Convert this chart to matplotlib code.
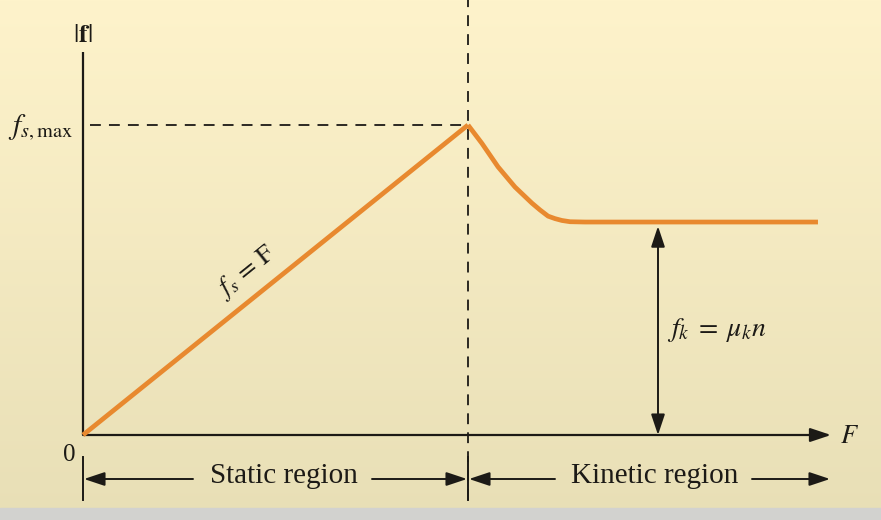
import numpy as np
import matplotlib
matplotlib.use("Agg")
import matplotlib.pyplot as plt
from matplotlib.patches import FancyArrowPatch

plt.rcParams['font.family'] = ['Liberation Serif', 'DejaVu Serif']
plt.rcParams['mathtext.fontset'] = 'stix'

# ---- data (normalised: f_s,max = 1 at the onset of sliding F = 1) ----
F_static = [0.0, 1.0]
f_static = [0.0, 1.0]
F_kinetic = [1.0, 1.036, 1.078, 1.122, 1.166, 1.187, 1.208, 1.226, 1.244, 1.265, 1.304, 1.909]
f_kinetic = [1.0, 0.941, 0.865, 0.800, 0.748, 0.726, 0.706, 0.698, 0.692, 0.688, 0.687, 0.687]
fs_max = 1.0
f_k = 0.687
F_transition = 1.0
region_labels = ["Static region", "Kinetic region"]

W, H = 881, 520
OX, OY = 83, 435      # pixel origin
SX, SY = 385, 310     # pixels per data unit


def dx(px):
    return (px - OX) / SX


def dy(py):
    return (OY - py) / SY


fig = plt.figure(figsize=(W / 100, H / 100), dpi=100)

# background gradient
bg = fig.add_axes([0, 0, 1, 1])
bg.axis('off')
top = np.array([254, 243, 203]) / 255
bot = np.array([232, 223, 182]) / 255
t = np.linspace(0, 1, 256)[:, None]
grad = top[None, :] * (1 - t) + bot[None, :] * t
img = np.repeat(grad[:, None, :], 2, axis=1)
bg.imshow(img, aspect='auto', extent=[0, 1, 0, 1], origin='upper')
bg.axhspan(0, 12 / H, color='#d2d2cf', zorder=2)
bg.set_xlim(0, 1)
bg.set_ylim(0, 1)

ax = fig.add_axes([0, 0, 1, 1])
ax.patch.set_alpha(0)
ax.axis('off')
ax.set_xlim(dx(0), dx(W))
ax.set_ylim(dy(H), dy(0))

ink = '#1c1a16'
orange = '#e8892f'

# axes
ax.plot([0, 0], [0, dy(52)], color=ink, lw=1.6, solid_capstyle='butt')
ax.add_patch(FancyArrowPatch((0, 0), (dx(831), 0), arrowstyle='-|>,head_length=0.9,head_width=0.3',
                             mutation_scale=14, color=ink, lw=1.6, shrinkA=0, shrinkB=0))

# dashed guides
ax.plot([F_transition, F_transition], [dy(500), dy(0)], color=ink, lw=1.3,
        linestyle=(0, (6, 4.5)))
ax.plot([dx(90), F_transition], [fs_max, fs_max], color=ink, lw=1.3,
        linestyle=(0, (6, 4.5)))

# friction curve
ax.plot(F_static, f_static, color=orange, lw=3.4, solid_capstyle='butt', zorder=5)
ax.plot(F_kinetic, f_kinetic, color=orange, lw=3.4, solid_capstyle='butt',
        solid_joinstyle='round', zorder=5)

# f_k double arrow
xk = dx(658)
ax.add_patch(FancyArrowPatch((xk, 0), (xk, f_k), arrowstyle='<|-|>,head_length=0.9,head_width=0.3',
                             mutation_scale=14, color=ink, lw=1.4, shrinkA=0, shrinkB=3))

# labels
ax.text(0, dy(36), r'$|\mathbf{f}|$', ha='center', va='center', fontsize=19, color=ink)
ax.text(dx(73), fs_max - 0.01, r'$f_{s,\mathrm{max}}$', ha='right', va='center', fontsize=21, color=ink)
ax.text(dx(69), dy(455), '0', ha='center', va='center', fontsize=18, color=ink)
ax.text(dx(840), dy(437), r'$F$', ha='left', va='center', fontsize=19, color=ink)
ax.text(dx(247), dy(272), r'$f_s\,=\,\mathrm{F}$', ha='center', va='center', fontsize=19,
        rotation=38.8, rotation_mode='anchor', color=ink)
ax.text(dx(667), dy(330), r'$f_k\;=\;\mu_k n$', ha='left', va='center', fontsize=20, color=ink)

# region markers
for px in (83, 468):
    ax.plot([dx(px), dx(px)], [dy(457), dy(500)], color=ink, lw=1.4)
ya = dy(479)
ast = '-|>,head_length=0.9,head_width=0.3'
for (x0, x1) in [(193, 84), (372, 467), (555, 469), (752, 830)]:
    ax.add_patch(FancyArrowPatch((dx(x0), ya), (dx(x1), ya), arrowstyle=ast, mutation_scale=14,
                                 color=ink, lw=1.4, shrinkA=0, shrinkB=0))
ax.text(dx(284), dy(476), region_labels[0], ha='center', va='center', fontsize=21, color=ink)
ax.text(dx(655), dy(476), region_labels[1], ha='center', va='center', fontsize=21, color=ink)

fig.savefig('out.png', dpi=100)
